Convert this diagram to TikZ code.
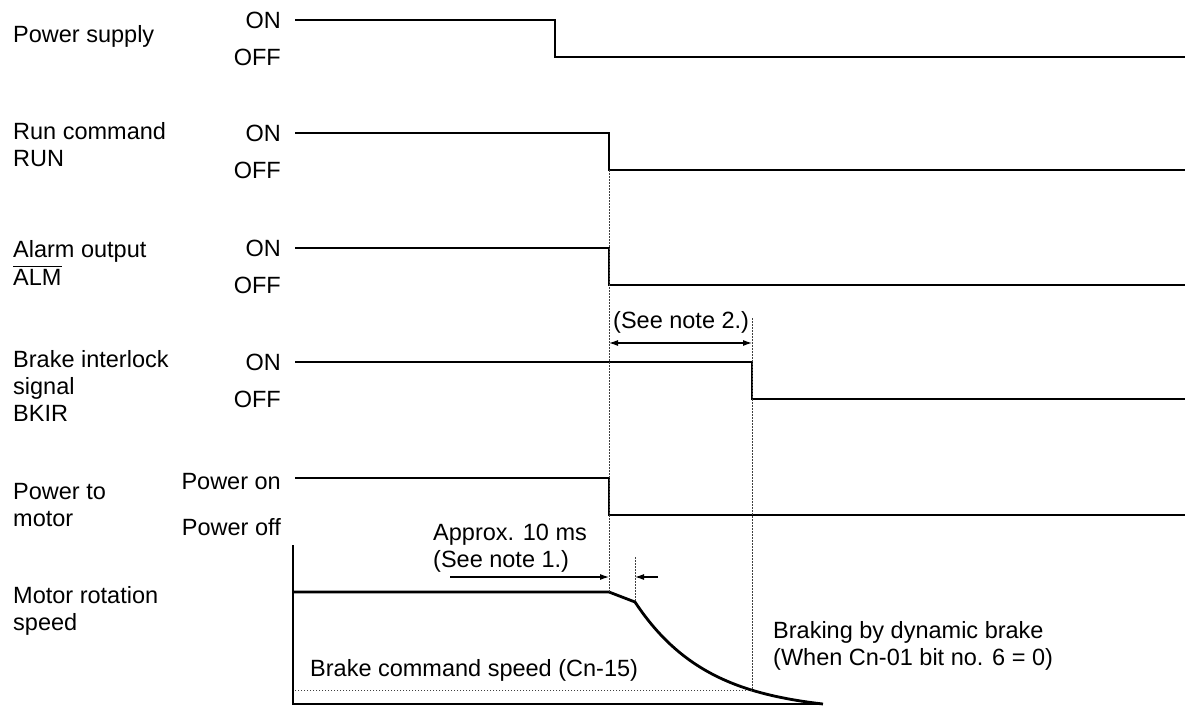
\documentclass[tikz,border=0pt]{standalone}
\usepackage{fontspec}
\setmainfont{Liberation Sans}
\usetikzlibrary{arrows.meta}

\begin{document}
\begin{tikzpicture}[x=1pt,y=-1pt,
  every node/.style={font=\fontsize{23.5}{27}\selectfont, inner sep=0pt},
  signal/.style={line width=2.8pt},
  guide/.style={black!75, line width=0.9pt, dash pattern=on 1.5pt off 1.5pt},
  dimline/.style={line width=1.1pt, -{Latex[length=9pt,width=6pt]}}]
  \useasboundingbox (0,0) rectangle (1185,707);

  % Nomi dei segnali (base = ultima riga)
  \node[anchor=base west, align=left] (psup) at (13,42) {Power supply};
  \node[anchor=base west, align=left] (run) at (13,166) {Run command\\RUN};
  \node[anchor=base west, align=left] (alarm) at (13,257) {Alarm output};
  \node[anchor=base west] (almbar) at (13,285) {ALM};
  \draw[line width=1.1pt] ([yshift=2pt]almbar.north west) -- ([yshift=2pt]almbar.north east);
  \node[anchor=base west, align=left] (bkir) at (13,421) {Brake interlock\\signal\\BKIR};
  \node[anchor=base west, align=left] (pmot) at (13,526) {Power to\\motor};
  \node[anchor=base west, align=left] (speed) at (13,630) {Motor rotation\\speed};

  % Livelli ON/OFF
  \foreach \y/\n in {20/ps, 133/run, 248/alm, 362/bk} {
    \node[anchor=base east] (\n-on) at (281,\y+8.5) {ON};
    \node[anchor=base east] (\n-off) at (281,\y+45.5) {OFF};
  }
  \node[anchor=base east] (mot-on) at (281,489) {Power on};
  \node[anchor=base east] (mot-off) at (281,535) {Power off};

  % Segnali
  \draw[signal] (295,20) -- (555,20) -- (555,57) -- (1185,57);
  \foreach \y/\x in {133/609, 248/609, 362/752, 478/609}
    \draw[signal] (295,\y) -- (\x,\y) -- (\x,\y+37) -- (1185,\y+37);

  % Velocita del motore
  \draw[line width=1.1pt] (293,545) -- (293,704) -- (823,704);
  \draw[signal, line join=round] (293,592) -- (609,592) -- (635,602)
    -- plot[domain=635:823, samples=80] (\x, {704-102*(exp(-(\x-635)/73)-0.0761)/0.9239});

  % Linee di riferimento
  \draw[guide] (609,170) -- (609,592);
  \draw[guide] (752,318) -- (752,690) -- (293,690);
  \draw[guide] (635,557) -- (635,602);

  % Quote
  \coordinate (t0) at (609,577);
  \coordinate (t1) at (635,577);
  \draw[dimline] (450,577) -- (t0);
  \draw[dimline] (658,577) -- (t1);
  \coordinate (b0) at (609,343);
  \coordinate (b1) at (752,343);
  \draw[dimline, {Latex[length=9pt,width=6pt]}-{Latex[length=9pt,width=6pt]}] (b0) -- (b1);

  \node[anchor=base west] (note2) at (613,328) {(See note 2.)};
  \node[anchor=base west, align=left] (note1) at (433,567) {Approx. 10 ms\\(See note 1.)};
  \node[anchor=base west, align=left] (dyn) at (773,665) {Braking by dynamic brake\\(When Cn-01 bit no. 6 = 0)};
  \node[anchor=base west] (cmd) at (310,676) {Brake command speed (Cn-15)};
\end{tikzpicture}
\end{document}
